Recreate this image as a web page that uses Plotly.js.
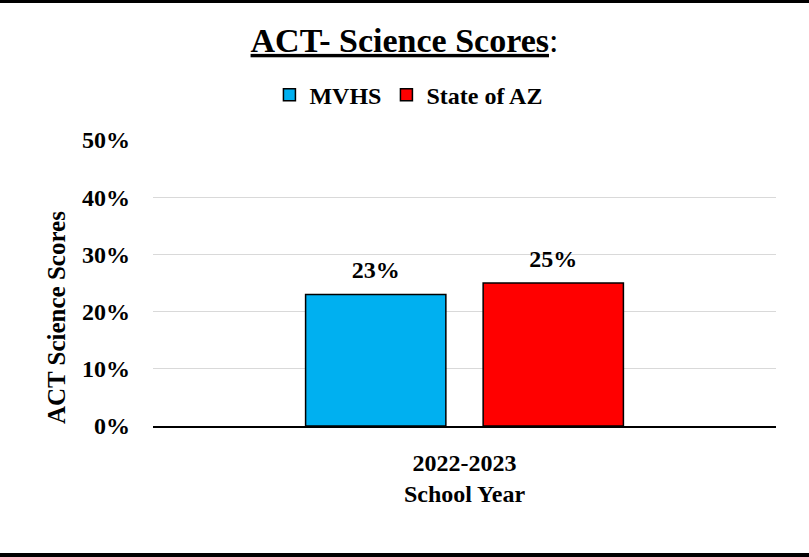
<!DOCTYPE html>
<html>
<head>
<meta charset="utf-8">
<script src="https://cdn.plot.ly/plotly-3.0.1.min.js"></script>
<style>
  html, body { margin: 0; padding: 0; background: #fff; }
  #wrap { position: relative; width: 809px; height: 557px; overflow: hidden; }
  #chart { width: 809px; height: 557px; }
  .bt { position: absolute; left: 0; top: 0; width: 809px; height: 3px; background: #000; }
  .bb { position: absolute; left: 0; bottom: 0; width: 809px; height: 4px; background: #000; }
</style>
</head>
<body>
<div id="wrap">
  <div id="chart"></div>
  <div class="bt"></div>
  <div class="bb"></div>
</div>
<script>
const categories = ['2022-2023'];
const seriesNames = ['MVHS', 'State of AZ'];
const mvhsValues = [0.23];
const azValues = [0.25];
const yTickValues = [0, 0.1, 0.2, 0.3, 0.4, 0.5];
const seriesColors = ['#00B0F0', '#FF0000'];

const FONT = '"Liberation Serif", "Times New Roman", Times, serif';
const allValues = [mvhsValues, azValues];
const pct = v => Math.round(v * 100) + '%';

const traces = [];
allValues.forEach((vals, i) => {
  traces.push({
    type: 'bar', name: seriesNames[i], x: categories, y: vals,
    marker: { color: seriesColors[i], line: { color: '#000', width: 1.5 } },
    hoverinfo: 'none'
  });
});
allValues.forEach((vals, i) => {
  traces.push({
    type: 'scatter', mode: 'markers+text', x: categories, y: vals,
    showlegend: false, cliponaxis: false, hoverinfo: 'none',
    marker: { size: 15, opacity: 0, color: '#fff' },
    text: vals.map(pct), textposition: 'top center',
    textfont: { family: FONT, size: 24, color: '#000', weight: 'bold' }
  });
});

const layout = {
  width: 809, height: 557,
  margin: { l: 153, r: 33, t: 140, b: 131, pad: 0 },
  paper_bgcolor: '#fff', plot_bgcolor: '#fff',
  font: { family: FONT, color: '#000' },
  title: {
    text: '<b><u>ACT- Science Scores</u></b>:',
    font: { family: FONT, size: 34, color: '#000' },
    x: 0.5, xref: 'container', xanchor: 'center',
    y: 1 - 40 / 557, yref: 'container', yanchor: 'middle'
  },
  barmode: 'group', bargap: 0.43, bargroupgap: 0.21,
  scattermode: 'group', scattergap: 0.43,
  showlegend: true,
  legend: {
    orientation: 'h', x: 0.41, xanchor: 'center', y: 1.157, yanchor: 'middle',
    font: { family: FONT, size: 24, color: '#000', weight: 'bold' },
    itemclick: false, itemdoubleclick: false, traceorder: 'normal'
  },
  xaxis: {
    type: 'category',
    showline: true, linecolor: '#000', linewidth: 2,
    showgrid: false, zeroline: false, ticks: '',
    ticklabelstandoff: 14,
    tickfont: { family: FONT, size: 24, color: '#000', weight: 'bold' },
    title: { text: 'School Year', standoff: 10, font: { family: FONT, size: 24, color: '#000', weight: 'bold' } }
  },
  yaxis: {
    range: [0, 0.5], tickvals: yTickValues, tickformat: '.0%',
    showline: false, zeroline: false, ticks: '',
    showgrid: true, gridcolor: '#d9d9d9', gridwidth: 1,
    ticklabelstandoff: 22,
    tickfont: { family: FONT, size: 24, color: '#000', weight: 'bold' }
  },
  annotations: [{
    text: 'ACT Science Scores', textangle: -90,
    xref: 'paper', yref: 'paper', x: (56 - 153) / 623, y: (426 - 318) / 286,
    xanchor: 'center', yanchor: 'middle', showarrow: false,
    font: { family: FONT, size: 25, color: '#000', weight: 'bold' }
  }]
};

Plotly.newPlot('chart', traces, layout, { displayModeBar: false, staticPlot: true });
</script>
</body>
</html>
